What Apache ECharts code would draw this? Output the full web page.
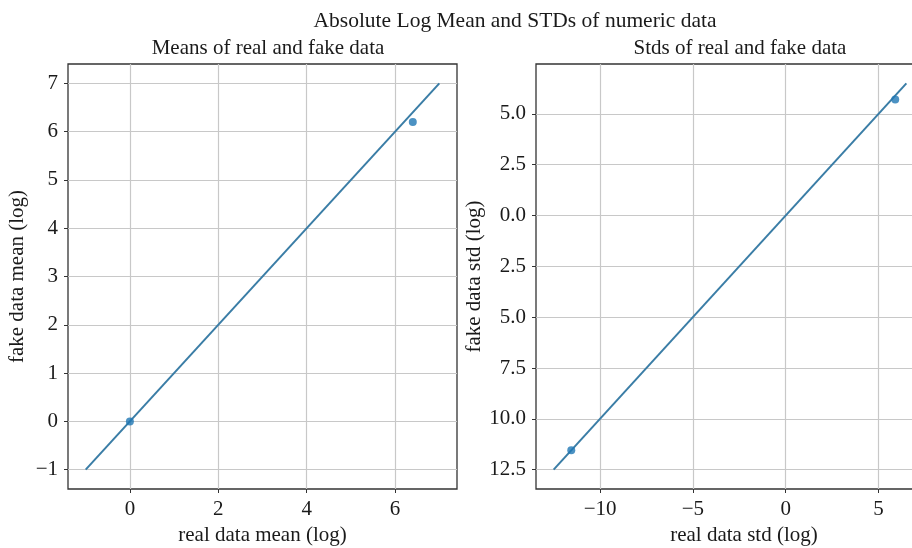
<!DOCTYPE html>
<html><head><meta charset="utf-8">
<script src="https://cdn.jsdelivr.net/npm/echarts@6/dist/echarts.min.js"></script>
<style>html,body{margin:0;padding:0;background:#fff}#c{width:912px;height:548px}</style>
</head><body><div id="c"></div>
<script>
// ---- data ----
const meanIdentity = [-1, 7];
const meanReal = [0, 6.4];
const meanFake = [0, 6.2];
const stdIdentity = [-12.5, 6.5];
const stdReal = [-11.55, 5.9];
const stdFake = [-11.55, 5.7];
const meanXTicks = [0, 2, 4, 6];
const meanYTicks = [-1, 0, 1, 2, 3, 4, 5, 6, 7];
const stdXTicks = [-10, -5, 0, 5];
const stdYTicks = [-12.5, -10, -7.5, -5, -2.5, 0, 2.5, 5];
const mainTitle = 'Absolute Log Mean and STDs of numeric data';
const meanTitle = 'Means of real and fake data';
const stdTitle = 'Stds of real and fake data';

const FONT = '"Liberation Serif", "DejaVu Serif", serif';
const TXT = '#1a1a1a';
const FS = 21;
const minusFmt = v => String(v).replace('-', '\u2212');

function axis(grid, min, max, ticks, fmt, extra) {
  return Object.assign({
    type: 'value', gridIndex: grid, min: min, max: max,
    axisLine: { show: false, onZero: false },
    axisTick: { show: true, length: 4, customValues: ticks, lineStyle: { color: '#333' } },
    axisLabel: { customValues: ticks, formatter: fmt, fontFamily: FONT, fontSize: FS, color: TXT, margin: 10 },
    splitLine: { show: true, lineStyle: { color: '#c8c8c8', width: 1.2 } },
    nameTextStyle: { fontFamily: FONT, fontSize: FS, color: TXT }
  }, extra || {});
}

const chart = echarts.init(document.getElementById('c'), null, { renderer: 'canvas' });
chart.setOption({
  animation: false,
  backgroundColor: '#fff',
  title: [
    { text: mainTitle, left: 510, top: 5, textAlign: 'center', textStyle: { fontFamily: FONT, fontSize: 21.5, fontWeight: 'normal', color: TXT } },
    { text: meanTitle, left: 263, top: 33, textAlign: 'center', textStyle: { fontFamily: FONT, fontSize: 21, fontWeight: 'normal', color: TXT } },
    { text: stdTitle, left: 735, top: 33, textAlign: 'center', textStyle: { fontFamily: FONT, fontSize: 21, fontWeight: 'normal', color: TXT } }
  ],
  grid: [
    { left: 68, top: 64, right: 455, bottom: 59, outerBoundsMode: 'none', containLabel: false, show: true, borderColor: '#333', borderWidth: 1.3, backgroundColor: 'transparent' },
    { left: 536, top: 64, right: -12, bottom: 59, outerBoundsMode: 'none', containLabel: false, show: true, borderColor: '#333', borderWidth: 1.3, backgroundColor: 'transparent' }
  ],
  xAxis: [
    axis(0, -1.4, 7.4, meanXTicks, minusFmt, { name: 'real data mean (log)', nameLocation: 'middle', nameGap: 35 }),
    axis(1, -13.45, 7.45, stdXTicks, minusFmt, { name: 'real data std (log)', nameLocation: 'middle', nameGap: 35,
      nameTextStyle: { fontFamily: FONT, fontSize: FS, color: TXT, padding: [0, 0, 0, 28] } })
  ],
  yAxis: [
    axis(0, -1.4, 7.4, meanYTicks, minusFmt, { name: 'fake data mean (log)', nameLocation: 'middle', nameGap: 40 }),
    axis(1, -13.45, 7.45, stdYTicks, v => Math.abs(v).toFixed(1), { name: 'fake data std (log)', nameLocation: 'middle', nameGap: 51 })
  ],
  series: [
    { type: 'line', xAxisIndex: 0, yAxisIndex: 0, data: meanIdentity.map(v => [v, v]), symbol: 'none',
      lineStyle: { color: '#3a7da6', width: 2 }, z: 2 },
    { type: 'scatter', xAxisIndex: 0, yAxisIndex: 0, data: meanReal.map((v, i) => [v, meanFake[i]]),
      symbolSize: 8, itemStyle: { color: '#1f77b4' }, z: 3 },
    { type: 'line', xAxisIndex: 1, yAxisIndex: 1, data: stdIdentity.map(v => [v, v]), symbol: 'none',
      lineStyle: { color: '#3a7da6', width: 2 }, z: 2 },
    { type: 'scatter', xAxisIndex: 1, yAxisIndex: 1, data: stdReal.map((v, i) => [v, stdFake[i]]),
      symbolSize: 8, itemStyle: { color: '#1f77b4' }, z: 3 }
  ]
});
</script></body></html>
